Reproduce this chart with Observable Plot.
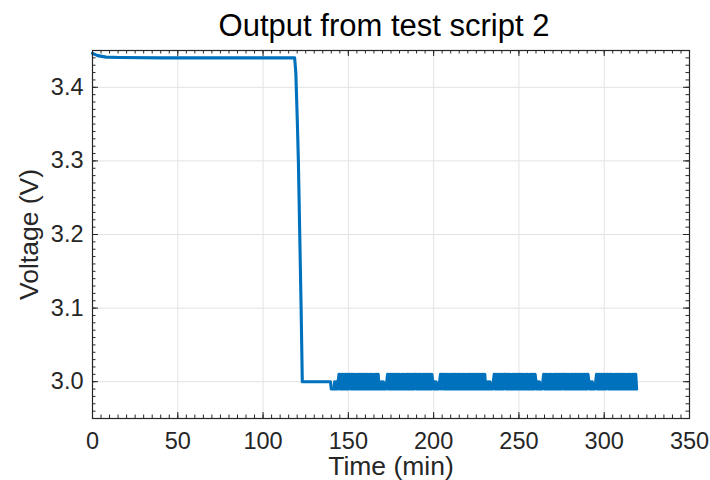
<!DOCTYPE html>
<html>
<head>
<meta charset="utf-8">
<script src="https://cdn.jsdelivr.net/npm/d3@7"></script>
<script src="https://cdn.jsdelivr.net/npm/@observablehq/plot@0.6"></script>
<style>
  html, body { margin: 0; padding: 0; background: #fff; }
  #chart svg { display: block; font-family: "Liberation Sans", Arial, Helvetica, sans-serif; }
</style>
</head>
<body>
<div id="chart"></div>
<script>
// Charge hold, then drop to the 3.0 V regulation band
const headTime = [0, 3, 8, 16, 40, 80, 118.5, 119.2, 120, 120.7, 121.5, 122.3, 123, 139.5];
const headVolt = [3.446, 3.443, 3.441, 3.4405, 3.440, 3.440, 3.440, 3.42, 3.36, 3.30, 3.20, 3.10, 3.00, 3.00];

// Regulation band: one code per 0.5 min sample, 0 = 2.99 V, 1 = 3.00 V, 2 = 3.01 V
const sampleStep = 0.5;
const codeLevels = [2.99, 3.00, 3.01];
const cycleStart = [140, 168.5, 199.5, 231, 260, 291];
const cycleCodes = [
  "0000101012" + "0202020202" + "0220202020" + "0202020202" + "0202002020" + "0202020",
  "1010100012" + "0202020202" + "0202002020" + "0202020202" + "0220202020" + "0202020202" + "02",
  "1010100012" + "0220202020" + "0202020202" + "0202002020" + "0202020202" + "0202020202" + "020",
  "1010100012" + "0202020202" + "0220202020" + "0202020202" + "0202002020" + "02020202",
  "1010100012" + "0202002020" + "0202020202" + "0220202020" + "0202020202" + "0202020202" + "02",
  "1010100012" + "0202020202" + "0220202020" + "0202020202" + "0202002020" + "0202020"
];

// Axis ticks
const xMajor = [0, 50, 100, 150, 200, 250, 300, 350];
const yMajor = [3.0, 3.1, 3.2, 3.3, 3.4];
const xDomain = [0, 350];
const yDomain = [2.95, 3.45];

const titleText = "Output from test script 2";
const xLabel = "Time (min)";
const yLabel = "Voltage (V)";

// Build the series
const series = headTime.map((t, i) => ({time: t, volt: headVolt[i]}));
cycleCodes.forEach((codes, c) => {
  for (let i = 0; i < codes.length; ++i) {
    series.push({time: cycleStart[c] + i * sampleStep, volt: codeLevels[+codes[i]]});
  }
});

const xMinor = d3.range(0, 351, 5);
const yMinor = d3.range(295, 346, 1).map(d => d / 100);

const W = 710, H = 480;
const M = {top: 50, right: 21, bottom: 62, left: 92};
const innerW = W - M.left - M.right;
const innerH = H - M.top - M.bottom;
const majorLen = 6, minorLen = 3.5;
const ink = "#262626";

const plot = Plot.plot({
  width: W,
  height: H,
  marginTop: M.top,
  marginRight: M.right,
  marginBottom: M.bottom,
  marginLeft: M.left,
  x: {domain: xDomain, axis: null},
  y: {domain: yDomain, axis: null},
  marks: [
    // grid
    Plot.ruleX(xMajor.filter(d => d > xDomain[0] && d < xDomain[1]), {x: d => d, stroke: "#e3e3e3", strokeWidth: 1}),
    Plot.ruleY(yMajor, {y: d => d, stroke: "#e3e3e3", strokeWidth: 1}),
    // data
    Plot.line(series, {x: "time", y: "volt", stroke: "#0072BD", strokeWidth: 3.1, strokeLinejoin: "round"}),
    // inward ticks, all four sides
    Plot.tickX(xMinor, {x: d => d, insetTop: innerH - minorLen, stroke: ink}),
    Plot.tickX(xMinor, {x: d => d, insetBottom: innerH - minorLen, stroke: ink}),
    Plot.tickX(xMajor, {x: d => d, insetTop: innerH - majorLen, stroke: ink}),
    Plot.tickX(xMajor, {x: d => d, insetBottom: innerH - majorLen, stroke: ink}),
    Plot.tickY(yMinor, {y: d => d, insetRight: innerW - minorLen, stroke: ink}),
    Plot.tickY(yMinor, {y: d => d, insetLeft: innerW - minorLen, stroke: ink}),
    Plot.tickY(yMajor, {y: d => d, insetRight: innerW - majorLen, stroke: ink}),
    Plot.tickY(yMajor, {y: d => d, insetLeft: innerW - majorLen, stroke: ink}),
    Plot.frame({stroke: ink, strokeWidth: 1.2}),
    // tick labels
    Plot.text(xMajor, {x: d => d, text: d => String(d), frameAnchor: "bottom", lineAnchor: "middle", dy: 22.5, fontSize: 23.5, fill: ink}),
    Plot.text(yMajor, {y: d => d, text: d => d.toFixed(1), frameAnchor: "left", lineAnchor: "middle", dx: -9, textAnchor: "end", fontSize: 23.5, fill: ink}),
    // axis labels and title
    Plot.text([xLabel], {frameAnchor: "bottom", lineAnchor: "middle", textAnchor: "middle", dy: 48, fontSize: 26.5, fill: ink}),
    Plot.text([yLabel], {frameAnchor: "left", lineAnchor: "middle", textAnchor: "middle", dx: -63, rotate: -90, fontSize: 26.5, fill: ink}),
    Plot.text([titleText], {frameAnchor: "top", lineAnchor: "middle", textAnchor: "middle", dx: -7, dy: -24, fontSize: 31, fill: "#000"})
  ]
});

document.getElementById("chart").appendChild(plot);
</script>
</body>
</html>
